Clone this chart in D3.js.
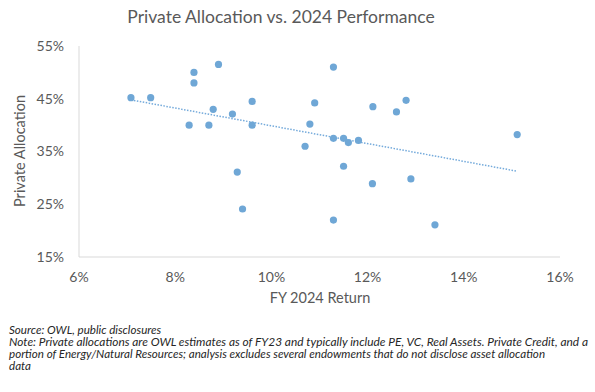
<!DOCTYPE html>
<html>
<head>
<meta charset="utf-8">
<script src="https://cdn.jsdelivr.net/npm/d3@7"></script>
<style>
  body { margin: 0; background: #fff; }
  svg { display: block; font-family: Lato, "Open Sans", sans-serif; }
</style>
</head>
<body>
<div id="chart"></div>
<script>
// FY 2024 return (%) and private allocation (%) per endowment
var returns = [7.08, 7.49, 8.39, 8.39, 8.90, 8.29, 8.70, 8.79, 9.19, 9.60,
               9.60, 11.29, 10.90, 10.80, 11.29, 11.50, 11.60, 11.81, 10.70, 12.11,
               12.60, 12.80, 15.11, 9.29, 9.40, 11.50, 12.10, 12.90, 11.29, 13.40];
var allocations = [45.2, 45.2, 50.0, 48.0, 51.5, 40.0, 40.0, 43.0, 42.1, 44.5,
                   40.0, 51.0, 44.2, 40.2, 37.5, 37.5, 36.7, 37.1, 36.0, 43.5,
                   42.5, 44.7, 38.2, 31.1, 24.1, 32.2, 28.9, 29.8, 22.0, 21.1];
var xTicks = [6, 8, 10, 12, 14, 16];
var yTicks = [15, 25, 35, 45, 55];

var titleText = 'Private Allocation vs. 2024 Performance';
var xTitle = 'FY 2024 Return';
var yTitle = 'Private Allocation';
var notes = [
  'Source: OWL, public disclosures',
  'Note: Private allocations are OWL estimates as of FY23 and typically include PE, VC, Real Assets. Private Credit, and a',
  'portion of Energy/Natural Resources; analysis excludes several endowments that do not disclose asset allocation',
  'data'
];

var width = 595, height = 392;
var margin = { top: 46, left: 79, right: 35, bottom: 135 };

var data = returns.map(function (r, i) { return { x: r, y: allocations[i] }; });

var svg = d3.select('#chart').append('svg')
  .attr('width', width)
  .attr('height', height);

var x = d3.scaleLinear().domain([6, 16]).range([margin.left, width - margin.right]);
var y = d3.scaleLinear().domain([15, 55]).range([height - margin.bottom, margin.top]);

// title
svg.append('text')
  .attr('x', 281).attr('y', 23)
  .attr('text-anchor', 'middle')
  .attr('fill', '#595959')
  .style('font-size', '17.5px')
  .text(titleText);

// axis lines
svg.append('line')
  .attr('x1', x(6)).attr('x2', x(6))
  .attr('y1', y(55)).attr('y2', y(15))
  .attr('stroke', '#d9d9d9');
svg.append('line')
  .attr('x1', x(6)).attr('x2', x(16))
  .attr('y1', y(15)).attr('y2', y(15))
  .attr('stroke', '#d9d9d9');

// tick labels
svg.selectAll('.ylab').data(yTicks).enter().append('text')
  .attr('class', 'ylab')
  .attr('x', 64).attr('y', function (d) { return y(d); })
  .attr('dy', '0.35em')
  .attr('text-anchor', 'end')
  .attr('fill', '#595959')
  .style('font-size', '14px')
  .text(function (d) { return d + '%'; });

svg.selectAll('.xlab').data(xTicks).enter().append('text')
  .attr('class', 'xlab')
  .attr('x', function (d) { return x(d); }).attr('y', 277)
  .attr('dy', '0.35em')
  .attr('text-anchor', 'middle')
  .attr('fill', '#595959')
  .style('font-size', '14px')
  .text(function (d) { return d + '%'; });

// axis titles
svg.append('text')
  .attr('x', 320).attr('y', 298)
  .attr('dy', '0.35em')
  .attr('text-anchor', 'middle')
  .attr('fill', '#595959')
  .style('font-size', '14.5px')
  .text(xTitle);

svg.append('text')
  .attr('transform', 'translate(20,151) rotate(-90)')
  .attr('dy', '0.35em')
  .attr('text-anchor', 'middle')
  .attr('fill', '#595959')
  .style('font-size', '14.5px')
  .text(yTitle);

// linear trendline (least squares)
var mx = d3.mean(data, function (d) { return d.x; });
var my = d3.mean(data, function (d) { return d.y; });
var sxy = d3.sum(data, function (d) { return (d.x - mx) * (d.y - my); });
var sxx = d3.sum(data, function (d) { return (d.x - mx) * (d.x - mx); });
var slope = sxy / sxx;
var icpt = my - slope * mx;
var ext = d3.extent(data, function (d) { return d.x; });

svg.append('line')
  .attr('x1', x(ext[0])).attr('y1', y(icpt + slope * ext[0]))
  .attr('x2', x(ext[1])).attr('y2', y(icpt + slope * ext[1]))
  .attr('stroke', '#74aadb')
  .attr('stroke-width', 1.5)
  .attr('stroke-dasharray', '1.5,1.5');

// points
svg.selectAll('.dot').data(data).enter().append('circle')
  .attr('class', 'dot')
  .attr('cx', function (d) { return x(d.x); })
  .attr('cy', function (d) { return y(d.y); })
  .attr('r', 3.6)
  .attr('fill', '#6fa7d6');

// footnotes
svg.selectAll('.note').data(notes).enter().append('text')
  .attr('class', 'note')
  .attr('x', 9)
  .attr('y', function (d, i) { return 334 + i * 12; })
  .attr('fill', '#262626')
  .style('font-size', '11.6px')
  .style('font-style', 'italic')
  .attr('textLength', function (d, i) { return i === 1 ? 579 : null; })
  .attr('lengthAdjust', 'spacingAndGlyphs')
  .text(function (d) { return d; });
</script>
</body>
</html>
